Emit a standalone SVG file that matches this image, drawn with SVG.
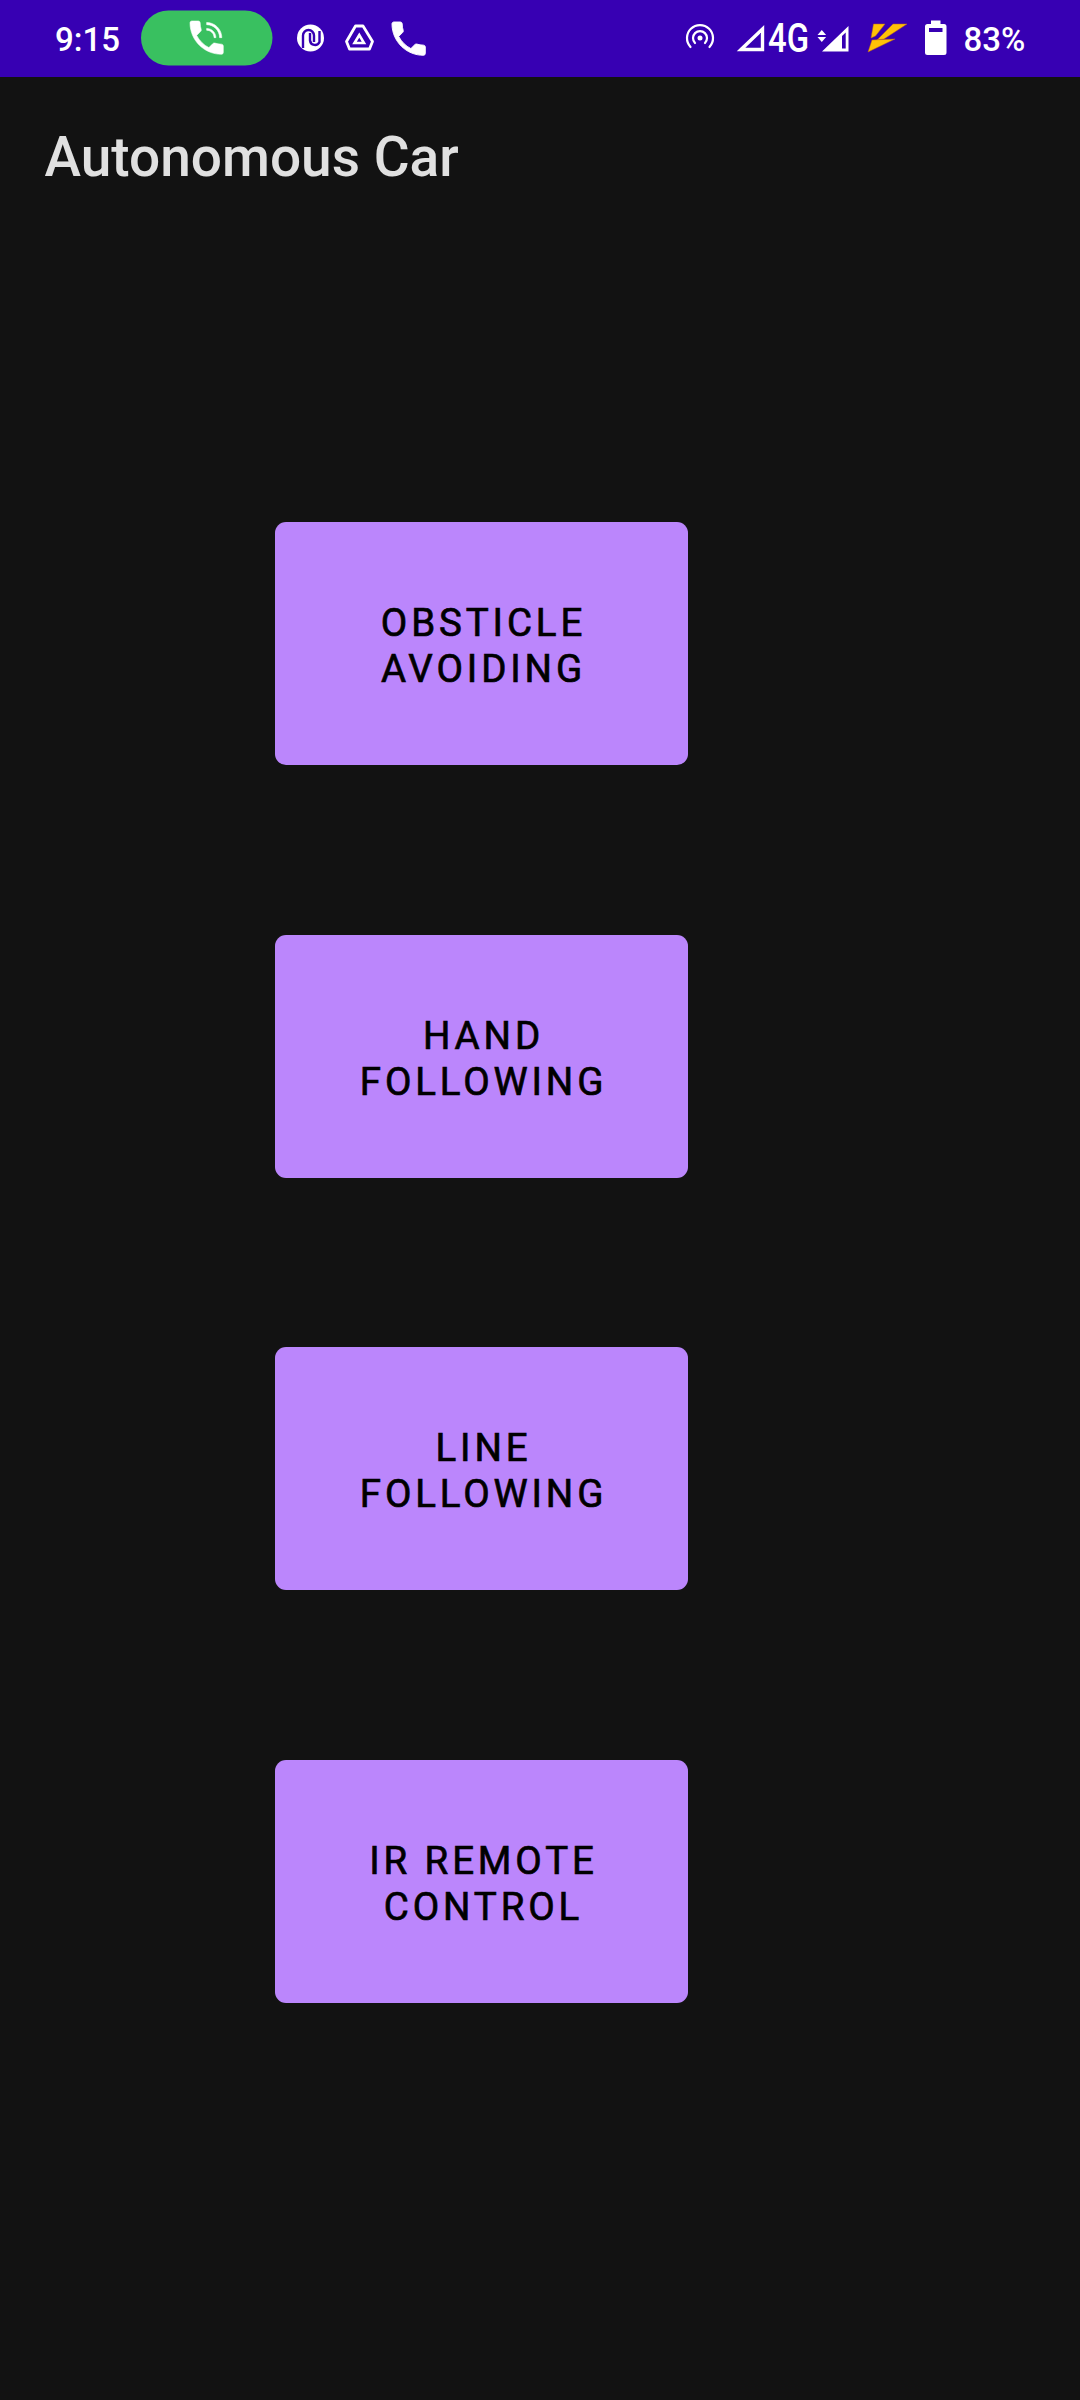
<svg xmlns="http://www.w3.org/2000/svg" width="1080" height="2400" viewBox="0 0 1080 2400">
<style>
.b{fill:#BB86FC}
.t{font-family:Roboto,"Liberation Sans",sans-serif;font-weight:400;font-size:38.5px;letter-spacing:3.85px;fill:#000;stroke:#000;stroke-width:0.7px;text-anchor:middle}
.s{font-family:Roboto,"Liberation Sans",sans-serif;font-weight:500;fill:#fff}
.w{fill:#fff}
.o{fill:none;stroke:#fff}
.y{fill:#FFC107;stroke:#B8651A;stroke-width:0.5}
</style>
<rect width="1080" height="2400" fill="#121212"/>
<g id="status-bar">
<rect width="1080" height="77" fill="#3700B3"/>
<text class="s" x="55" y="51" font-size="33">9:15</text>
<rect x="141" y="10.500" width="131.500" height="55" rx="27.500" fill="#39C060"/>
<path class="w" stroke="#fff" stroke-width="0.3" transform="translate(184.450 15.450) scale(1.85)" d="M20 15.500c-1.250 0-2.450-.2-3.570-.57-.35-.11-.74-.03-1.020.24l-2.200 2.200c-2.830-1.440-5.150-3.750-6.590-6.590l2.200-2.210c.28-.26.36-.65.25-1C8.700 6.450 8.500 5.250 8.500 4c0-.55-.45-1-1-1H4c-.55 0-1 .45-1 1 0 9.390 7.610 17 17 17 .55 0 1-.45 1-1v-3.500c0-.55-.45-1-1-1zM19 12h1.200c0-4.500-3.700-8.200-8.200-8.200V5c3.870 0 7 3.130 7 7zm-3 0h1c0-2.760-2.240-5-5-5v1c2.200 0 4 1.800 4 4z"/>
<circle class="w" cx="310.500" cy="38" r="13.500"/>
<path d="M303 48V35.500a5.500 5.500 0 0 1 11 0V42M310 33v7.500a5 5 0 0 0 9.500 1.500V31" fill="none" stroke="#3700B3" stroke-width="2.400"/>
<path class="o" stroke-width="2.800" stroke-linejoin="round" d="M355.500 26H363L372.500 41.500L369.500 49H349.500L346.500 41.500z"/>
<path class="o" stroke-width="2.600" stroke-linejoin="miter" d="M359.300 35L354.500 43H364z"/>
<path class="w" stroke="#fff" stroke-width="0.5" transform="translate(386.450 16.450) scale(1.85)" d="M6.620 10.790c1.440 2.830 3.760 5.140 6.590 6.590l2.200-2.200c.27-.27.67-.36 1.020-.24 1.120.37 2.330.57 3.570.57.55 0 1 .45 1 1V20c0 .55-.45 1-1 1-9.390 0-17-7.610-17-17 0-.55.45-1 1-1h3.500c.55 0 1 .45 1 1 0 1.250.2 2.450.57 3.570.11.35.03.74-.25 1.020l-2.200 2.200z"/>
<circle class="w" cx="700" cy="38" r="2.500"/>
<path class="o" stroke-width="2.200" stroke-linecap="round" d="M695 43a7 7 0 1 1 10 0M690.500 47a13 13 0 1 1 19 0"/>
<path class="o" stroke-width="3.400" d="M741 49.500L762.500 29V49.500z"/>
<text class="s" x="768" y="51.500" font-size="40" textLength="41" lengthAdjust="spacingAndGlyphs">4G</text>
<path class="w" d="M817.500 35l4.300-5 4.300 5zM817.500 37l4.300 5 4.300-5z"/>
<path class="w" fill-rule="evenodd" d="M822 51.500L848.500 26V51.500zM842 48.500H845.700V32.500L842 36z"/>
<g id="lightning">
<path class="y" d="M873.500 24H885L875.500 36L871 38z"/>
<path class="y" d="M893 24H907L884 39L877 40z"/>
<path class="y" d="M872 40L895 39L868 52z"/>
</g>
<path class="w" fill-rule="evenodd" d="M931 20.500h9.500v3.500h3.500a2.500 2.500 0 0 1 2.500 2.500v26a2.500 2.500 0 0 1-2.500 2.500h-16.500a2.500 2.500 0 0 1-2.500-2.500v-26a2.500 2.500 0 0 1 2.500-2.500h3.500zM929 28v4h13.500v-4z"/>
<text class="s" x="963.500" y="51" font-size="33">83%</text>
</g>
<text id="title" x="44.500" y="176" font-family="Roboto,'Liberation Sans',sans-serif" font-weight="500" font-size="55" fill="#E0E0E0">Autonomous Car</text>
<g id="obsticle-avoiding">
<rect class="b" x="275" y="522" width="413" height="243" rx="11"/>
<text class="t" x="483.500" y="636">OBSTICLE</text>
<text class="t" x="483.500" y="682">AVOIDING</text>
</g>
<g id="hand-following">
<rect class="b" x="275" y="935" width="413" height="243" rx="11"/>
<text class="t" x="483.500" y="1049">HAND</text>
<text class="t" x="483.500" y="1095">FOLLOWING</text>
</g>
<g id="line-following">
<rect class="b" x="275" y="1347" width="413" height="243" rx="11"/>
<text class="t" x="483.500" y="1461">LINE</text>
<text class="t" x="483.500" y="1507">FOLLOWING</text>
</g>
<g id="ir-remote-control">
<rect class="b" x="275" y="1760" width="413" height="243" rx="11"/>
<text class="t" x="483.500" y="1874">IR REMOTE</text>
<text class="t" x="483.500" y="1920">CONTROL</text>
</g>
</svg>
